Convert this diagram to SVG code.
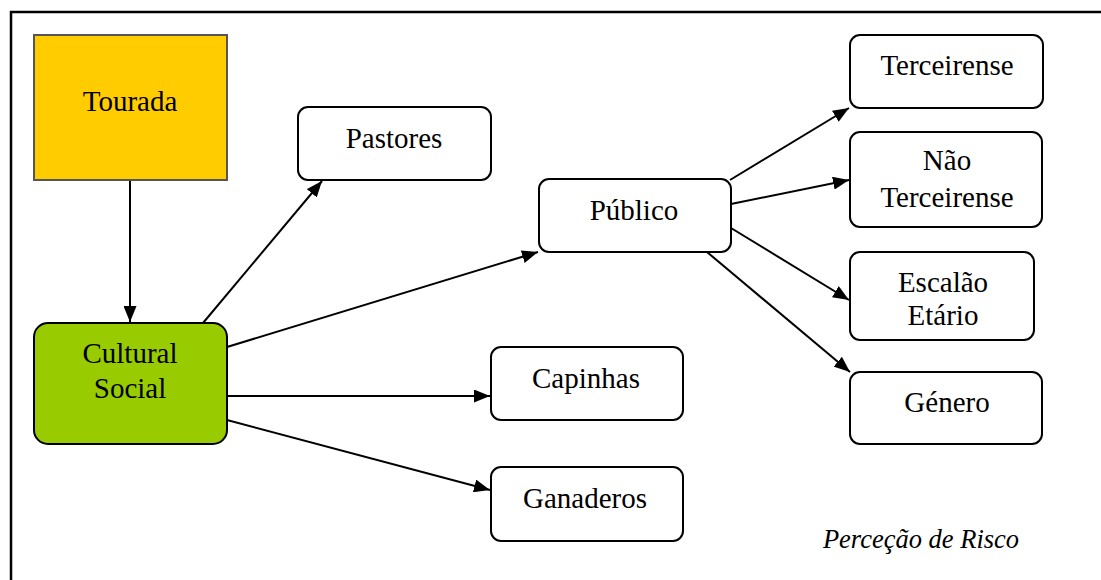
<svg xmlns="http://www.w3.org/2000/svg" width="1101" height="580" viewBox="0 0 1101 580">
<style>
.t{font-family:'Liberation Serif','Times New Roman',serif;font-size:29px;fill:#000;text-anchor:middle}
.cap{font-family:'Liberation Serif','Times New Roman',serif;font-style:italic;font-size:26.5px;fill:#000;text-anchor:middle}
.box{fill:#fff;stroke:#000;stroke-width:2}
.edge{stroke:#000;stroke-width:2;fill:none;marker-end:url(#ah)}
.frame{stroke:#000;stroke-width:2.5;fill:none}
</style>
<defs>
<marker id="ah" viewBox="0 0 16 13" refX="16" refY="6.5" markerWidth="16" markerHeight="13" markerUnits="userSpaceOnUse" orient="auto">
<path d="M0,0 L16,6.5 L0,13 z" fill="#000"/>
</marker>
</defs>
<rect width="1101" height="580" fill="#fff"/>
<path class="frame" d="M11,580 V12 H1101"/>
<g id="connectors">
<line class="edge" x1="130" y1="180" x2="130" y2="322"/>
<line class="edge" x1="203" y1="323" x2="322" y2="181"/>
<line class="edge" x1="227" y1="347" x2="538" y2="252"/>
<line class="edge" x1="227" y1="396" x2="490" y2="396"/>
<line class="edge" x1="227" y1="420" x2="490" y2="490"/>
<line class="edge" x1="730" y1="180" x2="849" y2="108"/>
<line class="edge" x1="731" y1="204" x2="849" y2="180"/>
<line class="edge" x1="731" y1="228" x2="849" y2="300"/>
<line class="edge" x1="707" y1="252" x2="850" y2="372"/>
</g>
<g id="tourada">
<rect x="34" y="35" width="193" height="145" fill="#FFCC00" stroke="#555" stroke-width="2"/>
<text class="t" x="130" y="111">Tourada</text>
</g>
<g id="cultural-social">
<rect x="34" y="323" width="193" height="121" rx="14" fill="#99CC00" stroke="#000" stroke-width="2"/>
<text class="t" x="130" y="363">Cultural</text>
<text class="t" x="130" y="398">Social</text>
</g>
<g id="pastores">
<rect class="box" x="298" y="107" width="193" height="73" rx="10"/>
<text class="t" x="394" y="148">Pastores</text>
</g>
<g id="publico">
<rect class="box" x="539" y="179" width="192" height="73" rx="10"/>
<text class="t" x="634" y="220">Público</text>
</g>
<g id="capinhas">
<rect class="box" x="491" y="347" width="192" height="73" rx="10"/>
<text class="t" x="586" y="388">Capinhas</text>
</g>
<g id="ganaderos">
<rect class="box" x="491" y="467" width="192" height="74" rx="10"/>
<text class="t" x="585" y="508">Ganaderos</text>
</g>
<g id="terceirense">
<rect class="box" x="850" y="35" width="193" height="73" rx="10"/>
<text class="t" x="947" y="75">Terceirense</text>
</g>
<g id="nao-terceirense">
<rect class="box" x="850" y="132" width="192" height="95" rx="10"/>
<text class="t" x="947" y="170">Não</text>
<text class="t" x="947" y="207">Terceirense</text>
</g>
<g id="escalao-etario">
<rect class="box" x="850" y="252" width="184" height="88" rx="10"/>
<text class="t" x="943" y="292">Escalão</text>
<text class="t" x="943" y="325">Etário</text>
</g>
<g id="genero">
<rect class="box" x="850" y="372" width="192" height="72" rx="10"/>
<text class="t" x="947" y="412">Género</text>
</g>
<text class="cap" x="921" y="548">Perceção de Risco</text>
</svg>
